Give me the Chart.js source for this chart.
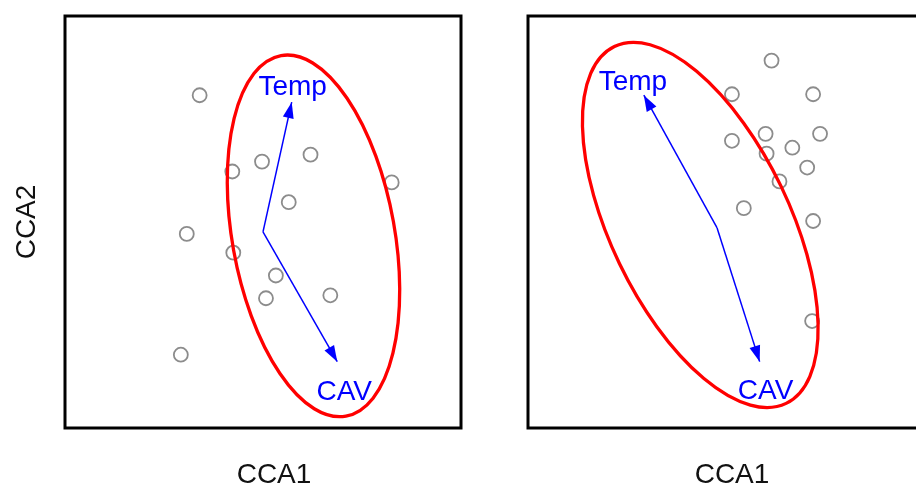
<!DOCTYPE html>
<html>
<head>
<meta charset="utf-8">
<script src="https://cdn.jsdelivr.net/npm/chart.js@4.4.1/dist/chart.umd.min.js"></script>
<style>
  html, body { margin: 0; padding: 0; background: #fff; overflow: hidden; }
  #wrap { position: relative; width: 916px; height: 487px; overflow: hidden; }
  #wrap canvas { position: absolute; top: 0; }
  #leftChart { left: 0; }
  #rightChart { left: 463px; }
</style>
</head>
<body>
<div id="wrap">
  <canvas id="leftChart" width="470" height="487"></canvas>
  <canvas id="rightChart" width="470" height="487"></canvas>
</div>
<script>
// Site scores (CCA1, CCA2) - left panel
const leftSitesX = [-0.64, -0.31, -0.01, 0.48, 1.30, 0.26, -0.77, -0.30, 0.13, 0.03, 0.68, -0.83];
const leftSitesY = [1.28, 0.51, 0.61, 0.68, 0.40, 0.20, -0.12, -0.31, -0.54, -0.77, -0.74, -1.34];

// Site scores - right panel
const rightSitesX = [0.46, 0.06, 0.88, 0.40, 0.95, 0.06, 0.67, 0.41, 0.82, 0.54, 0.18, 0.88, 0.87];
const rightSitesY = [1.63, 1.29, 1.29, 0.89, 0.89, 0.82, 0.75, 0.69, 0.55, 0.41, 0.14, 0.01, -1.00];

// Environmental arrows: origin, Temp tip, CAV tip
const arrowLabels = ["Temp", "CAV"];
const leftArrowOrigin = [0.00, -0.10];
const leftArrowTips = [[0.29, 1.21], [0.75, -1.41]];
const leftLabelPos = [[0.30, 1.28], [0.82, -1.80]];
const rightArrowOrigin = [-0.09, -0.06];
const rightArrowTips = [[-0.83, 1.28], [0.34, -1.41]];
const rightLabelPos = [[-0.94, 1.33], [0.40, -1.79]];

// Ellipses: centre x, centre y, semi-major, semi-minor, angle (deg)
const leftEllipse = [0.51, -0.14, 1.85, 0.82, -79.8];
const rightEllipse = [-0.26, -0.03, 2.00, 0.905, -64.3];

const axisRange = { x: [-2, 2], y: [-2.08, 2.08] };
const FONT = '"Liberation Sans", Arial, sans-serif';

const biplotExtras = {
  id: "biplotExtras",
  afterDatasetsDraw(chart, args, opts) {
    const { ctx } = chart;
    const x = chart.scales.x;
    const y = chart.scales.y;
    ctx.save();

    // ellipse
    const [cx, cy, a, b, ang] = opts.ellipse;
    const unit = x.getPixelForValue(1) - x.getPixelForValue(0);
    ctx.beginPath();
    ctx.ellipse(x.getPixelForValue(cx), y.getPixelForValue(cy), a * unit, b * unit,
      -ang * Math.PI / 180, 0, 2 * Math.PI);
    ctx.strokeStyle = "#ff0000";
    ctx.lineWidth = 3.3;
    ctx.stroke();

    // arrow heads
    chart.data.datasets.forEach((ds, i) => {
      if (!ds.arrow) return;
      const pts = chart.getDatasetMeta(i).data;
      const p0 = pts[0], p1 = pts[1];
      const t = Math.atan2(p1.y - p0.y, p1.x - p0.x);
      const len = 16, half = 5.5;
      ctx.beginPath();
      ctx.moveTo(p1.x, p1.y);
      ctx.lineTo(p1.x - len * Math.cos(t) - half * Math.sin(t), p1.y - len * Math.sin(t) + half * Math.cos(t));
      ctx.lineTo(p1.x - len * Math.cos(t) + half * Math.sin(t), p1.y - len * Math.sin(t) - half * Math.cos(t));
      ctx.closePath();
      ctx.fillStyle = "#0000ff";
      ctx.fill();
    });

    // arrow labels
    ctx.font = "28px " + FONT;
    ctx.fillStyle = "#0000ff";
    ctx.textAlign = "center";
    ctx.textBaseline = "alphabetic";
    opts.labels.forEach((lab, i) => {
      ctx.fillText(lab, x.getPixelForValue(opts.labelPos[i][0]), y.getPixelForValue(opts.labelPos[i][1]));
    });
    ctx.restore();
  },
  afterDraw(chart, args, opts) {
    const { ctx, chartArea } = chart;
    ctx.save();
    ctx.strokeStyle = "#000";
    ctx.lineWidth = 3;
    ctx.strokeRect(chartArea.left, chartArea.top, chartArea.right - chartArea.left, chartArea.bottom - chartArea.top);

    ctx.font = "28px " + FONT;
    ctx.fillStyle = "#111";
    ctx.textAlign = "center";
    ctx.textBaseline = "alphabetic";
    ctx.fillText(opts.xTitle.text, opts.xTitle.x, opts.xTitle.y);
    if (opts.yTitle) {
      ctx.translate(opts.yTitle.x, opts.yTitle.y);
      ctx.rotate(-Math.PI / 2);
      ctx.fillText(opts.yTitle.text, 0, 0);
    }
    ctx.restore();
  }
};

function makePanel(canvasId, sx, sy, origin, tips, labelPos, ellipse, xTitle, yTitle) {
  const sites = sx.map((v, i) => ({ x: v, y: sy[i] }));
  const datasets = [
    {
      data: sites,
      showLine: false,
      pointRadius: 7,
      pointBorderWidth: 1.8,
      pointBorderColor: "#8c8c8c",
      pointBackgroundColor: "rgba(0,0,0,0)"
    }
  ];
  tips.forEach((tip) => {
    datasets.push({
      arrow: true,
      data: [{ x: origin[0], y: origin[1] }, { x: tip[0], y: tip[1] }],
      showLine: true,
      borderColor: "#0000ff",
      borderWidth: 1.5,
      pointRadius: 0
    });
  });

  return new Chart(document.getElementById(canvasId).getContext("2d"), {
    type: "scatter",
    data: { datasets: datasets },
    options: {
      responsive: false,
      animation: false,
      layout: { padding: { left: 65, right: 9, top: 16, bottom: 59 } },
      plugins: {
        legend: { display: false },
        tooltip: { enabled: false },
        biplotExtras: {
          ellipse: ellipse,
          labels: arrowLabels,
          labelPos: labelPos,
          xTitle: xTitle,
          yTitle: yTitle
        }
      },
      scales: {
        x: { type: "linear", display: false, min: axisRange.x[0], max: axisRange.x[1] },
        y: { type: "linear", display: false, min: axisRange.y[0], max: axisRange.y[1] }
      }
    },
    plugins: [biplotExtras]
  });
}

makePanel("leftChart", leftSitesX, leftSitesY, leftArrowOrigin, leftArrowTips, leftLabelPos, leftEllipse,
  { text: "CCA1", x: 274, y: 483 }, { text: "CCA2", x: 35, y: 222 });
makePanel("rightChart", rightSitesX, rightSitesY, rightArrowOrigin, rightArrowTips, rightLabelPos, rightEllipse,
  { text: "CCA1", x: 269, y: 483 }, null);
</script>
</body>
</html>
